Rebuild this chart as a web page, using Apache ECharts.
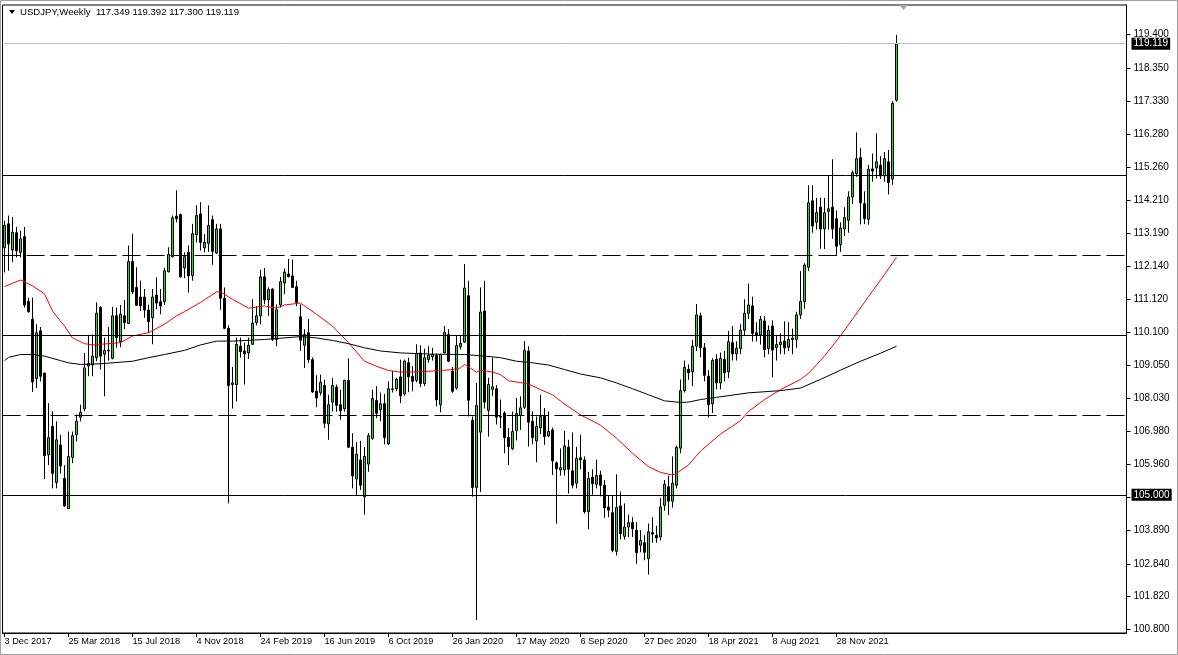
<!DOCTYPE html>
<html><head><meta charset="utf-8">
<script src="https://cdn.jsdelivr.net/npm/echarts@6/dist/echarts.min.js"></script>
<style>html,body{margin:0;padding:0;background:#fff;}#c{width:1178px;height:655px;}</style>
</head><body><div id="c"></div>
<script>
const symbolName = 'USDJPY,Weekly';
const xTickLabels = ['3 Dec 2017','25 Mar 2018','15 Jul 2018','4 Nov 2018','24 Feb 2019','16 Jun 2019','6 Oct 2019','26 Jan 2020','17 May 2020','6 Sep 2020','27 Dec 2020','18 Apr 2021','8 Aug 2021','28 Nov 2021'];
const yTickValues = [119.4,118.35,117.33,116.28,115.26,114.21,113.19,112.14,111.12,110.1,109.05,108.03,106.98,105.96,104.91,103.89,102.84,101.82,100.8];

const opens = [
112.73,113.48,112.66,113.20,112.59,113.08,111.05,110.49,108.64,110.13,
108.81,106.25,107.14,105.38,106.56,105.51,104.57,106.17,106.88,107.43,
107.69,109.03,109.06,109.29,110.86,109.40,109.52,109.27,110.60,109.79,
110.60,110.36,112.30,111.49,111.19,111.19,110.78,110.54,111.25,111.04,
111.05,111.98,112.45,113.72,113.77,112.10,112.59,111.86,113.14,113.79,
112.73,112.87,113.61,112.57,113.32,111.15,110.21,108.45,108.45,109.65,
109.50,109.44,109.71,110.39,110.60,111.82,111.10,111.44,109.86,110.94,
111.63,111.91,111.85,111.51,110.57,109.68,110.07,109.23,108.24,108.20,
108.42,107.22,107.90,108.37,107.82,107.69,108.58,106.49,105.49,106.09,
104.94,105.96,106.77,107.95,107.66,107.85,106.60,108.29,108.32,108.69,
108.16,109.13,108.71,108.58,109.44,108.48,109.23,109.32,109.36,107.82,
109.44,110.02,108.87,108.34,109.63,109.78,111.23,107.33,105.23,106.96,
110.75,107.64,108.30,108.32,107.45,107.56,106.79,106.44,107.01,107.48,
107.74,109.50,107.30,106.69,107.09,107.45,106.84,107.03,106.00,105.78,
105.78,106.49,105.75,105.36,106.16,106.09,104.47,105.55,105.33,105.62,
105.30,104.62,104.44,103.23,104.65,103.70,103.99,104.13,103.89,103.42,
103.50,103.00,103.82,103.73,103.68,104.67,105.25,104.80,105.30,106.46,
108.26,108.92,108.85,109.65,110.60,109.60,108.71,107.85,109.24,108.50,
109.24,108.85,109.76,109.41,109.58,110.15,110.68,110.91,110.07,110.00,
110.44,109.58,110.28,109.60,109.70,109.81,109.62,109.86,109.86,110.63,
111.05,112.12,114.20,113.53,114.00,113.32,113.87,114.00,113.64,112.83,
113.32,113.59,114.32,115.05,115.55,114.11,113.62,115.20,115.23,115.31,
114.98,115.42,114.88,117.349];
const highs = [
113.58,113.74,113.69,113.38,113.27,113.38,111.17,111.17,110.34,110.25,
108.81,107.87,107.61,107.30,106.88,105.93,106.98,106.98,107.51,107.82,
109.44,109.99,110.02,111.02,110.90,109.92,110.25,110.88,110.86,110.94,
111.10,112.80,113.17,112.12,111.70,111.44,110.95,111.44,111.80,111.44,
112.10,112.75,113.74,114.53,113.80,112.59,112.80,113.48,114.06,114.16,
113.16,114.06,113.74,113.48,113.48,111.49,110.30,109.00,109.92,109.92,
109.76,109.92,111.12,110.90,112.04,112.10,111.49,111.46,110.96,111.82,
112.08,112.38,112.36,111.70,110.96,110.18,110.50,109.30,108.74,108.76,
108.60,108.13,108.66,108.45,108.29,108.60,109.27,106.93,106.65,106.69,
106.50,106.93,108.29,108.40,108.20,108.15,108.55,108.87,108.66,109.23,
109.23,109.29,109.03,109.71,109.68,109.57,109.65,109.60,109.42,109.41,
110.28,110.18,109.00,109.97,109.97,112.22,111.70,107.45,108.50,111.49,
111.70,108.66,109.29,108.43,107.98,107.61,107.09,107.60,108.03,108.08,
109.81,109.65,107.61,107.45,108.13,107.71,107.61,107.10,106.04,106.45,
107.00,106.72,106.95,106.50,106.88,106.20,105.72,105.80,106.10,105.75,
105.46,104.97,104.99,105.64,105.10,104.73,104.38,104.30,104.15,103.90,
103.73,104.10,104.30,104.03,104.90,105.46,105.60,106.20,106.54,108.61,
109.20,109.08,109.85,110.97,110.70,109.75,108.90,109.27,109.40,109.45,
109.50,110.13,110.28,109.80,110.34,111.12,111.61,111.20,110.40,110.60,
110.60,110.30,110.46,110.00,110.05,110.43,110.40,110.20,110.73,112.00,
112.25,114.69,114.69,114.29,114.30,114.29,114.98,115.50,113.90,113.53,
114.00,114.50,115.15,116.34,115.86,114.50,115.33,115.68,116.31,115.60,
115.73,115.79,117.32,119.392];
const lows = [
111.96,112.01,112.28,112.43,112.43,110.86,110.70,108.22,108.34,108.55,
105.49,105.93,105.20,105.20,105.67,104.62,104.55,105.99,106.67,107.30,
107.61,108.71,108.71,109.18,108.92,108.08,109.20,109.24,109.60,109.62,
110.18,110.34,111.28,110.91,110.75,110.54,110.07,109.71,110.81,110.65,
110.94,111.96,112.43,113.53,111.80,111.78,111.33,111.70,112.90,112.64,
112.59,112.60,112.20,112.54,110.79,110.18,104.73,107.70,107.92,109.29,
108.45,109.25,109.69,110.30,110.34,110.96,110.60,109.81,109.65,110.86,
111.28,111.80,111.47,110.90,109.50,108.97,109.13,108.19,107.74,108.11,
107.09,106.72,107.61,107.60,107.35,107.60,106.46,105.20,104.97,105.15,
104.38,105.72,106.72,107.40,107.30,106.58,106.56,108.20,108.24,107.87,
108.10,108.21,108.24,108.52,108.37,108.40,109.13,109.20,107.77,107.58,
109.43,109.15,108.19,108.29,109.55,109.76,107.45,104.94,101.08,105.09,
107.70,106.82,108.10,107.20,107.09,106.30,105.93,106.40,106.70,107.03,
107.69,106.51,106.58,106.02,106.90,106.56,106.80,105.62,104.10,105.60,
105.60,105.04,105.20,105.20,105.80,104.41,103.92,105.00,105.20,104.95,
104.28,104.30,103.20,103.10,103.60,103.60,103.68,103.68,102.84,103.20,
102.95,102.50,103.50,103.50,103.57,104.50,104.36,104.60,105.20,106.30,
108.20,108.60,108.40,109.50,109.30,108.55,107.42,107.56,108.30,108.30,
108.55,108.65,109.20,109.20,109.40,110.00,110.50,109.79,109.80,109.70,
109.30,109.40,108.68,109.20,109.40,109.40,109.50,109.40,109.60,110.50,
110.82,112.00,113.20,113.30,112.70,112.69,113.30,113.01,112.48,112.60,
113.10,113.20,114.10,114.95,113.46,113.47,113.45,114.80,114.90,114.88,
114.80,114.40,114.70,117.300];
const closes = [
113.43,112.85,113.22,112.64,113.01,110.94,110.73,108.53,110.07,108.71,
106.22,106.79,105.67,106.72,105.90,104.65,106.20,106.85,107.30,107.58,
108.97,109.11,109.34,110.68,109.34,109.52,109.50,110.60,109.92,110.65,
110.39,112.30,111.35,110.93,110.91,110.78,110.42,111.19,111.00,110.91,
112.01,112.52,113.67,113.64,111.82,112.45,111.85,113.17,113.74,112.90,
112.90,113.43,112.62,113.32,111.15,110.21,108.42,108.50,109.71,109.48,
109.41,109.68,110.37,110.60,111.82,111.10,111.42,109.86,110.79,111.67,
111.97,111.83,111.49,111.02,109.84,110.02,109.23,108.22,108.03,108.52,
107.24,107.82,108.42,107.80,107.63,108.58,106.49,105.59,106.27,105.30,
106.20,106.85,108.01,107.55,107.85,106.79,108.32,108.32,108.61,108.10,
109.18,108.69,108.55,109.42,108.48,109.29,109.37,109.39,107.97,109.39,
110.08,109.18,108.24,109.67,109.74,111.47,107.96,105.23,107.79,110.72,
107.90,108.45,108.38,107.43,107.43,106.79,106.51,106.98,107.54,107.72,
109.52,107.27,106.79,107.14,107.45,106.82,106.98,106.06,105.81,105.85,
106.53,105.80,105.30,106.14,106.09,104.47,105.51,105.35,105.60,105.30,
104.59,104.52,103.26,104.60,103.78,103.99,104.13,103.94,103.19,103.57,
103.20,103.84,103.77,103.65,104.62,105.33,104.80,105.36,106.48,108.26,
108.99,108.82,109.65,110.63,109.60,108.74,107.82,109.20,108.50,109.27,
108.82,109.79,109.41,109.58,110.15,110.68,110.94,110.05,110.00,110.49,
109.55,110.15,109.53,109.70,109.78,109.60,109.86,109.90,110.63,111.05,
112.19,114.14,113.41,113.83,113.32,113.83,113.95,113.32,112.78,113.35,
113.67,114.32,115.08,115.52,114.14,113.64,115.19,115.13,115.42,114.98,
115.52,114.77,117.25,119.119];

// moving averages: week index and value
const maRedIdx = [0,4,7,10,12,15,17,20,22,24,29,32,36,40,43,45,49,53,54,57,61,65,68,70,74,78,82,86,90,93,96,99,104,109,112,114,115,118,119,122,124,126,131,134,137,140,144,149,153,157,161,164,167,168,171,174,179,184,186,190,194,199,201,204,206,209,211,214,216,219,220,223];
const maRedVal = [111.52,111.72,111.54,111.29,110.75,110.28,109.91,109.73,109.69,109.71,109.76,109.97,110.07,110.34,110.6,110.73,111.02,111.35,111.35,111.12,110.84,110.91,110.84,110.94,111.0,110.65,110.28,109.76,109.18,109.02,108.89,108.84,108.85,108.89,108.92,108.97,109.08,108.84,108.9,108.84,108.76,108.57,108.47,108.29,108.13,107.84,107.5,107.18,106.77,106.3,105.88,105.7,105.62,105.67,105.93,106.37,106.9,107.32,107.61,107.98,108.29,108.61,108.8,109.2,109.5,109.98,110.32,110.85,111.2,111.72,111.89,112.43];
const maBlackIdx = [0,1,4,7,10,14,16,19,24,32,36,40,45,49,53,57,65,74,78,82,86,90,94,99,107,115,120,124,128,132,136,140,144,149,153,157,161,165,169,171,174,178,186,194,199,204,209,214,219,223];
const maBlackVal = [109.2,109.3,109.39,109.39,109.34,109.2,109.13,109.08,109.1,109.18,109.29,109.39,109.52,109.69,109.81,109.81,109.86,109.95,109.91,109.83,109.73,109.6,109.5,109.44,109.4,109.39,109.34,109.29,109.18,109.13,109.06,108.92,108.78,108.66,108.5,108.32,108.13,107.94,107.89,107.9,107.98,108.05,108.19,108.26,108.34,108.61,108.9,109.18,109.43,109.65];

const solidLevels = [115, 110, 105];
const dashedLevels = [112.5, 107.5];
const taggedLevels = [105];
const slotCount = 281;

const labelEvery = 16;
const cats = Array.from({length: slotCount}, (_, i) => String(i));
const showAt = (i) => i % labelEvery === 0 && (i / labelEvery) < xTickLabels.length;
const candles = opens.map((o, i) => [o, closes[i], lows[i], highs[i]]);
const last = opens.length - 1;
const lastPrice = closes[last];
const fmt = v => v.toFixed(3);
const FONT = 'Liberation Sans, Arial, sans-serif';
const tag = v => ({show: true, position: 'end', distance: 5, formatter: fmt(v), backgroundColor: '#000', color: '#fff',
  fontFamily: FONT, fontSize: 10, lineHeight: 11, padding: [1, 2, 0, 2]});

const mlData = [];
mlData.push({yAxis: lastPrice, lineStyle: {color: '#c0c0c0', type: 'solid', width: 1}, label: tag(lastPrice)});
solidLevels.forEach(v => mlData.push({yAxis: v, lineStyle: {color: '#000', type: 'solid', width: 1},
  label: taggedLevels.includes(v) ? tag(v) : {show: false}}));
dashedLevels.forEach(v => mlData.push({yAxis: v, lineStyle: {color: '#000', type: [18, 6], width: 1}, label: {show: false}}));

const chart = echarts.init(document.getElementById('c'), null, {renderer: 'canvas', width: 1178, height: 655});
chart.setOption({
  animation: false,
  backgroundColor: '#fff',
  grid: {left: 2.5, right: 51.5, top: 5, bottom: 22, show: true, borderColor: '#000', borderWidth: 1, backgroundColor: '#fff'},
  xAxis: {
    type: 'category', data: cats, boundaryGap: true,
    axisLine: {show: true, lineStyle: {color: '#000', width: 1}},
    axisTick: {show: true, alignWithLabel: true, interval: (i) => showAt(i), length: 4, lineStyle: {color: '#000'}},
    axisLabel: {interval: (i) => showAt(i), formatter: (v, i) => xTickLabels[Number(v) / labelEvery] || '',
      align: 'left', color: '#000', fontFamily: FONT, fontSize: 9.2, margin: 4},
    splitLine: {show: false}
  },
  yAxis: {
    type: 'value', position: 'right', min: 100.674, max: 120.329,
    axisLine: {show: true, lineStyle: {color: '#000', width: 1}},
    axisTick: {show: true, customValues: yTickValues, length: 4, lineStyle: {color: '#000'}},
    axisLabel: {customValues: yTickValues, formatter: v => fmt(v), color: '#000', fontFamily: FONT, fontSize: 10, margin: 7},
    splitLine: {show: false}
  },
  series: [
    {
      type: 'candlestick', data: candles, barWidth: 2,
      itemStyle: {color: '#22dd22', color0: '#000', borderColor: '#000', borderColor0: '#000', borderWidth: 1},
      markLine: {symbol: ['none', 'none'], silent: true, animation: false, label: {show: false}, data: mlData},
      z: 2
    },
    {
      type: 'line', data: maRedIdx.map((x, k) => [x, maRedVal[k]]), symbol: 'none', showSymbol: false,
      lineStyle: {color: '#ff0000', width: 1}, silent: true, z: 3
    },
    {
      type: 'line', data: maBlackIdx.map((x, k) => [x, maBlackVal[k]]), symbol: 'none', showSymbol: false,
      lineStyle: {color: '#000', width: 1}, silent: true, z: 3
    }
  ],
  graphic: [
    {type: 'rect', shape: {x: 0.5, y: 0.5, width: 1177, height: 654}, style: {fill: 'none', stroke: '#a0a0a0', lineWidth: 1}, silent: true},
    {type: 'polygon', shape: {points: [[9, 10], [15, 10], [12, 14]]}, style: {fill: '#000'}, silent: true},
    {type: 'polygon', shape: {points: [[899, 5], [908, 5], [903.5, 10]]}, style: {fill: '#a8a8a8'}, silent: true},
    {type: 'text', x: 20, y: 7, style: {text: symbolName + '  ' + fmt(opens[last]) + ' ' + fmt(highs[last]) + ' ' + fmt(lows[last]) + ' ' + fmt(closes[last]),
      fontFamily: FONT, fontSize: 9.6, fill: '#000'}, silent: true}
  ]
});
</script>
</body></html>
